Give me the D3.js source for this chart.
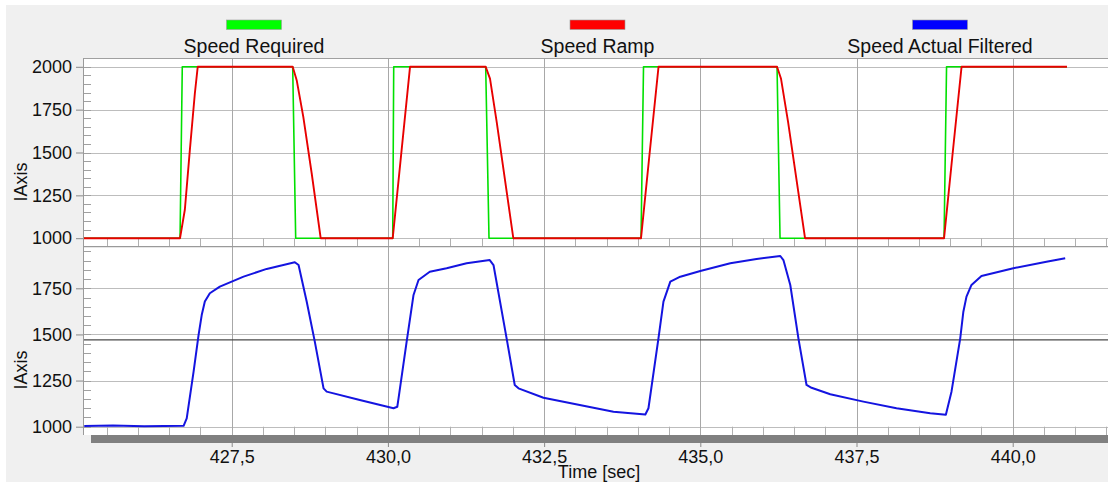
<!DOCTYPE html>
<html>
<head>
<meta charset="utf-8">
<script src="https://cdn.jsdelivr.net/npm/d3@7"></script>
<style>
  html, body { margin: 0; padding: 0; background: #ffffff; }
  svg { display: block; }
  text { font-family: "Liberation Sans", Arial, sans-serif; fill: #111; }
</style>
</head>
<body>
<div id="chart"></div>
<script>
// ---------------- data ----------------
const seriesNames = ["Speed Required", "Speed Ramp", "Speed Actual Filtered"];
const seriesColors = ["#00e000", "#e80000", "#1414e0"];
const legendColors = ["#00ff00", "#ff0000", "#0000ff"];

const xTicks = [427.5, 430.0, 432.5, 435.0, 437.5, 440.0];
const xTickLabels = ["427,5", "430,0", "432,5", "435,0", "437,5", "440,0"];
const xLabel = "Time [sec]";
const yLabel = "IAxis";
const topYTicks = [1000, 1250, 1500, 1750, 2000];
const bottomYTicks = [1000, 1250, 1500, 1750];
const cursorValue = 1470;

// [time, value]
const speedRequired = [
  [425.13, 1000], [426.673, 1000], [426.709, 2000], [428.476, 2000], [428.524, 1000],
  [430.077, 1000], [430.093, 2000], [431.565, 2000], [431.618, 1000],
  [434.051, 1000], [434.091, 2000], [436.228, 2000], [436.276, 1000],
  [438.901, 1000], [438.941, 2000], [440.869, 2000]
];
const speedRamp = [
  [425.13, 1000], [426.673, 1000], [426.75, 1166], [426.83, 1514], [426.91, 1844], [426.956, 2000],
  [428.476, 2000], [428.54, 1922], [428.646, 1708], [428.78, 1379], [428.924, 1000],
  [430.077, 1000], [430.21, 1480], [430.354, 2000],
  [431.565, 2000], [431.634, 1931], [431.741, 1679], [432.007, 1000],
  [434.051, 1000], [434.19, 1500], [434.331, 2000],
  [436.228, 2000], [436.292, 1930], [436.404, 1680], [436.676, 1000],
  [438.901, 1000], [439.04, 1500], [439.181, 2000], [440.869, 2000]
];
const speedActualFiltered = [
  [425.14, 1004], [425.6, 1006], [426.1, 1003], [426.73, 1005],
  [426.78, 1045], [426.89, 1298], [426.97, 1497], [427.02, 1605], [427.07, 1678],
  [427.15, 1723], [427.31, 1759], [427.69, 1813], [428.06, 1855], [428.51, 1891],
  [428.57, 1876], [428.70, 1678], [428.83, 1461], [428.97, 1208], [429.02, 1190],
  [429.55, 1145], [430.09, 1100], [430.15, 1108],
  [430.17, 1154], [430.30, 1461], [430.41, 1714], [430.49, 1795], [430.67, 1840],
  [430.94, 1859], [431.26, 1886], [431.63, 1903],
  [431.69, 1876], [431.90, 1479], [432.03, 1226], [432.09, 1208], [432.49, 1157],
  [433.07, 1118], [433.61, 1081], [434.12, 1066],
  [434.17, 1100], [434.33, 1479], [434.41, 1678], [434.52, 1786], [434.68, 1813],
  [435.00, 1844], [435.48, 1886], [435.90, 1909], [436.28, 1925],
  [436.33, 1903], [436.44, 1768], [436.57, 1479], [436.70, 1226], [436.78, 1211],
  [437.08, 1176], [437.61, 1136], [438.14, 1100], [438.68, 1073], [438.93, 1065],
  [439.02, 1190], [439.16, 1479], [439.21, 1623], [439.26, 1705], [439.34, 1768],
  [439.50, 1817], [440.01, 1859], [440.54, 1894], [440.84, 1913]
];

// ---------------- layout ----------------
const W = 1108, H = 482;
const plotL = 83, plotR = 1108;
const topPanel = { y0: 58.5, y1: 246.7 };
const botPanel = { y0: 246.7, y1: 435 };

const svg = d3.select("#chart").append("svg").attr("width", W).attr("height", H);

svg.append("rect").attr("x", 0).attr("y", 0).attr("width", W).attr("height", H).attr("fill", "#ffffff");
svg.append("rect").attr("x", 6).attr("y", 5).attr("width", W - 6).attr("height", H - 5).attr("fill", "#f0f0f0");

const x = d3.scaleLinear().domain([425.12, 441.525]).range([plotL, plotR]);
const yTop = d3.scaleLinear().domain([1000, 2000]).range([238.2, 66.8]);
const yBot = d3.scaleLinear().domain([1000, 1750]).range([426.7, 288.3]);

// panels
[topPanel, botPanel].forEach(p => {
  svg.append("rect").attr("x", plotL).attr("y", p.y0).attr("width", plotR - plotL)
    .attr("height", p.y1 - p.y0).attr("fill", "#ffffff");
});

const defs = svg.append("defs");
defs.append("clipPath").attr("id", "clipTop").append("rect")
  .attr("x", plotL).attr("y", topPanel.y0).attr("width", plotR - plotL).attr("height", topPanel.y1 - topPanel.y0);
defs.append("clipPath").attr("id", "clipBot").append("rect")
  .attr("x", plotL).attr("y", botPanel.y0).attr("width", plotR - plotL).attr("height", botPanel.y1 - botPanel.y0);

const gridColor = "#bdbdbd";
const vGridColor = "#a8a8a8";

function drawPanelGrid(p, yScale, ticks, minorMax) {
  svg.append("g").selectAll("line").data(ticks).join("line")
    .attr("x1", plotL).attr("x2", plotR)
    .attr("y1", d => Math.round(yScale(d)) + 0.5).attr("y2", d => Math.round(yScale(d)) + 0.5)
    .attr("stroke", gridColor).attr("stroke-width", 1);
  const minorY = d3.range(1000, minorMax + 1, 50).filter(v => yScale(v) > p.y0 + 1);
  svg.append("g").selectAll("line").data(minorY).join("line")
    .attr("x1", plotL).attr("x2", plotL + 8)
    .attr("y1", d => Math.round(yScale(d)) + 0.5).attr("y2", d => Math.round(yScale(d)) + 0.5)
    .attr("stroke", "#a0a0a0").attr("stroke-width", 1);
  const minorX = d3.range(425.5, 441.6, 0.5);
  svg.append("g").selectAll("line").data(minorX).join("line")
    .attr("x1", d => Math.round(x(d)) + 0.5).attr("x2", d => Math.round(x(d)) + 0.5)
    .attr("y1", yScale(1000)).attr("y2", p.y1)
    .attr("stroke", "#b0b0b0").attr("stroke-width", 1);
  const ax = d3.axisLeft(yScale).tickValues(ticks).tickSize(7).tickPadding(4).tickSizeOuter(0)
    .tickFormat(d3.format("d"));
  const g = svg.append("g").attr("transform", `translate(${plotL},0)`).call(ax);
  g.select(".domain").remove();
  g.selectAll(".tick line").attr("stroke", "#888");
  g.selectAll(".tick text").attr("font-size", 18).attr("fill", "#111")
    .style("font-family", '"Liberation Sans", Arial, sans-serif');
}

drawPanelGrid(topPanel, yTop, topYTicks, 2000);
drawPanelGrid(botPanel, yBot, bottomYTicks, 1950);

svg.append("g").selectAll("line").data(xTicks).join("line")
  .attr("x1", d => Math.round(x(d)) + 0.5).attr("x2", d => Math.round(x(d)) + 0.5)
  .attr("y1", topPanel.y0).attr("y2", botPanel.y1)
  .attr("stroke", vGridColor).attr("stroke-width", 1);

svg.append("line").attr("x1", plotL).attr("x2", plotR)
  .attr("y1", yBot(cursorValue)).attr("y2", yBot(cursorValue))
  .attr("stroke", "#4a4a4a").attr("stroke-width", 1.3);

const lineTop = d3.line().x(d => x(d[0])).y(d => yTop(d[1]));
const lineBot = d3.line().x(d => x(d[0])).y(d => yBot(d[1]));

const gTop = svg.append("g").attr("clip-path", "url(#clipTop)");
gTop.append("path").datum(speedRequired).attr("d", lineTop)
  .attr("fill", "none").attr("stroke", seriesColors[0]).attr("stroke-width", 1.6).attr("stroke-linejoin", "round");
gTop.append("path").datum(speedRamp).attr("d", lineTop)
  .attr("fill", "none").attr("stroke", seriesColors[1]).attr("stroke-width", 1.9).attr("stroke-linejoin", "round");

const gBot = svg.append("g").attr("clip-path", "url(#clipBot)");
gBot.append("path").datum(speedActualFiltered).attr("d", lineBot)
  .attr("fill", "none").attr("stroke", seriesColors[2]).attr("stroke-width", 2).attr("stroke-linejoin", "round");

svg.append("line").attr("x1", plotL).attr("x2", plotR).attr("y1", topPanel.y0).attr("y2", topPanel.y0)
  .attr("stroke", "#a0a0a0").attr("stroke-width", 1);
svg.append("line").attr("x1", plotL).attr("x2", plotR).attr("y1", topPanel.y1).attr("y2", topPanel.y1)
  .attr("stroke", "#9a9a9a").attr("stroke-width", 1.2);
svg.append("line").attr("x1", plotL + 0.5).attr("x2", plotL + 0.5).attr("y1", topPanel.y0).attr("y2", botPanel.y1)
  .attr("stroke", "#9a9a9a").attr("stroke-width", 1);

svg.append("rect").attr("x", 91).attr("y", 435).attr("width", plotR - 91).attr("height", 8).attr("fill", "#808080");

const xAxis = d3.axisBottom(x).tickValues(xTicks).tickSize(4).tickPadding(3).tickSizeOuter(0)
  .tickFormat((d, i) => xTickLabels[i]);
const gx = svg.append("g").attr("transform", "translate(0,443)").call(xAxis);
gx.select(".domain").remove();
gx.selectAll(".tick line").attr("stroke", "#888");
gx.selectAll(".tick text").attr("font-size", 18).attr("fill", "#111")
  .style("font-family", '"Liberation Sans", Arial, sans-serif');

svg.append("text").attr("x", 599).attr("y", 477.5).attr("text-anchor", "middle")
  .attr("font-size", 18).text(xLabel);

[182, 370].forEach(cy => {
  svg.append("text").attr("transform", `translate(27,${cy}) rotate(-90)`)
    .attr("text-anchor", "middle").attr("font-size", 18).text(yLabel);
});

const legendCenters = [254, 597.5, 940];
seriesNames.forEach((name, i) => {
  svg.append("rect").attr("x", legendCenters[i] - 27.5).attr("y", 20).attr("width", 55).attr("height", 9.5)
    .attr("fill", legendColors[i]).attr("stroke", "#9a9a9a").attr("stroke-width", 0.6);
  svg.append("text").attr("x", legendCenters[i]).attr("y", 52.5).attr("text-anchor", "middle")
    .attr("font-size", 19.5).text(name);
});
</script>
</body>
</html>
